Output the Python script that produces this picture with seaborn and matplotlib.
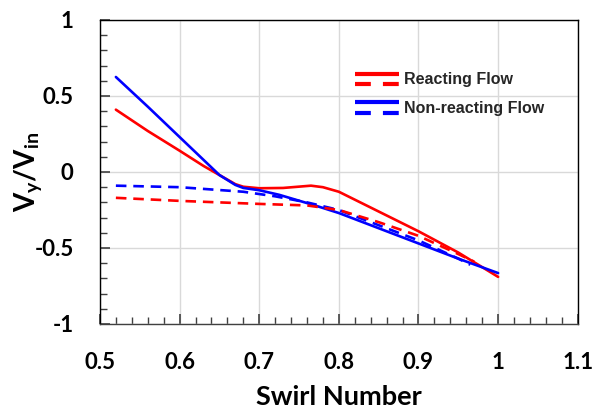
import numpy as np
import pandas as pd
import matplotlib
matplotlib.use("Agg")
import matplotlib.pyplot as plt
import seaborn as sns
from matplotlib.legend_handler import HandlerBase
from matplotlib.lines import Line2D
from matplotlib.ticker import MultipleLocator, FuncFormatter

# ---- data ----
rs_x = [0.52, 0.56, 0.60, 0.63, 0.65, 0.67, 0.68, 0.70, 0.73, 0.765, 0.78, 0.80, 0.85, 0.90, 0.95, 1.00]
rs_y = [0.41, 0.27, 0.14, 0.04, -0.02, -0.08, -0.097, -0.107, -0.105, -0.09, -0.10, -0.13, -0.26, -0.39, -0.53, -0.69]

rd_x = [0.52, 0.60, 0.70, 0.76, 0.80, 0.85, 0.90, 0.95, 0.97]
rd_y = [-0.17, -0.19, -0.21, -0.22, -0.25, -0.33, -0.42, -0.54, -0.59]

bs_x = [0.52, 0.56, 0.60, 0.63, 0.65, 0.67, 0.68, 0.70, 0.725, 0.77, 0.80, 0.85, 0.90, 0.95, 1.00]
bs_y = [0.625, 0.43, 0.23, 0.08, -0.02, -0.085, -0.105, -0.12, -0.15, -0.22, -0.27, -0.37, -0.47, -0.57, -0.665]

bd_x = [0.52, 0.60, 0.68, 0.72, 0.76, 0.80, 0.85, 0.90, 0.95, 0.965]
bd_y = [-0.09, -0.10, -0.13, -0.16, -0.20, -0.25, -0.35, -0.45, -0.57, -0.61]

legend_labels = ["Reacting Flow", "Non-reacting Flow"]
x_ticks = [0.5, 0.6, 0.7, 0.8, 0.9, 1.0, 1.1]
y_ticks = [-1, -0.5, 0, 0.5, 1]

sns.set_theme(style="ticks")
plt.rcParams["font.family"] = ["Lato", "DejaVu Sans"]
plt.rcParams["axes.unicode_minus"] = False
plt.rcParams["mathtext.fontset"] = "custom"
plt.rcParams["mathtext.rm"] = "Lato:bold"
plt.rcParams["mathtext.it"] = "Lato:bold"
plt.rcParams["mathtext.bf"] = "Lato:bold"

fig = plt.figure(figsize=(5.95, 4.12), dpi=100)
ax = fig.add_axes([0.168, 0.2136, 0.803, 0.7379])

RED = "#ff0000"
BLUE = "#0000ff"
LW = 1.9
DASH = (4, 2.6)

sns.lineplot(x=rs_x, y=rs_y, ax=ax, color=RED, lw=LW, sort=False, estimator=None)
sns.lineplot(x=bs_x, y=bs_y, ax=ax, color=BLUE, lw=LW, sort=False, estimator=None)
sns.lineplot(x=bd_x, y=bd_y, ax=ax, color=BLUE, lw=LW, sort=False, estimator=None, linestyle=(0, DASH))
sns.lineplot(x=rd_x, y=rd_y, ax=ax, color=RED, lw=LW, sort=False, estimator=None, linestyle=(0, DASH))

ax.set_xlim(0.5, 1.1)
ax.set_ylim(-1, 1)
ax.set_xticks(x_ticks)
ax.set_yticks(y_ticks)
ax.xaxis.set_minor_locator(MultipleLocator(0.02))
ax.yaxis.set_minor_locator(MultipleLocator(0.1))
fmt = FuncFormatter(lambda v, p: ("%g" % round(v, 2)))
ax.xaxis.set_major_formatter(fmt)
ax.yaxis.set_major_formatter(fmt)

ax.grid(True, which="major", color="#d9d9d9", lw=1.0)
ax.set_axisbelow(True)
for s in ax.spines.values():
    s.set_visible(True)
    s.set_color("black")
    s.set_linewidth(1.0)
ax.spines["bottom"].set_color("#404040")

ax.tick_params(axis="both", which="both", direction="in", colors="#404040",
               left=True, bottom=True, top=False, right=False)
ax.tick_params(axis="x", which="major", length=7, width=1.2, pad=20)
ax.tick_params(axis="x", which="minor", length=5, width=1.0)
ax.tick_params(axis="y", which="major", length=7, width=1.2, pad=19)
ax.tick_params(axis="y", which="minor", length=5, width=1.0)
for lab in ax.get_xticklabels() + ax.get_yticklabels():
    lab.set_fontsize(16)
    lab.set_fontweight("bold")
    lab.set_color("black")

ax.set_xlabel("Swirl Number", fontsize=19.5, fontweight="bold", labelpad=9, color="black")
ax.set_ylabel(r"$\mathrm{V_y/V_{in}}$", fontsize=20, color="black")
ax.yaxis.set_label_coords(-0.118, 0.5)


class StackHandler(HandlerBase):
    def create_artists(self, legend, orig_handle, xdescent, ydescent, width, height, fontsize, trans):
        color = orig_handle.get_color()
        top = Line2D([-xdescent, width - xdescent], [height * 0.95 - ydescent] * 2,
                     color=color, lw=3.0, solid_capstyle="butt", transform=trans)
        bot = Line2D([-xdescent, width - xdescent], [height * 0.0 - ydescent] * 2,
                     color=color, lw=3.0, linestyle=(0, (3.8, 2.9)), dash_capstyle="butt", transform=trans)
        return [top, bot]


h1 = Line2D([], [], color=RED)
h2 = Line2D([], [], color=BLUE)
leg = ax.legend([h1, h2], legend_labels, handler_map={Line2D: StackHandler()},
                loc="upper left", bbox_to_anchor=(0.503, 0.875), frameon=False,
                handlelength=2.75, handletextpad=0.31, labelspacing=0.85,
                prop={"family": "Liberation Sans", "weight": "bold", "size": 11.5})

fig.savefig("out.png", dpi=100)
